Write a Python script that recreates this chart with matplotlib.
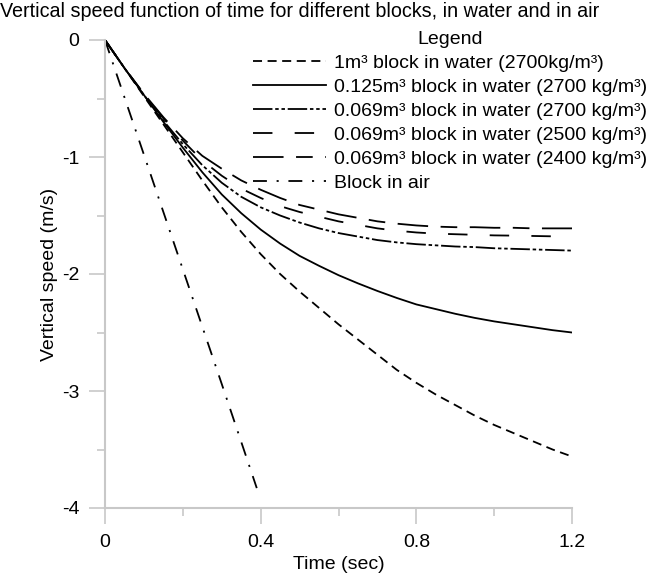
import matplotlib
matplotlib.use('Agg')
import matplotlib.pyplot as plt
from matplotlib.ticker import MultipleLocator

plt.rcParams['font.family'] = ['Liberation Sans', 'DejaVu Sans']
plt.rcParams['lines.scale_dashes'] = False

# Tiempos (s) para los bloques en agua
t_agua = [0, 0.05, 0.1, 0.15, 0.2, 0.25, 0.3, 0.35, 0.4, 0.45, 0.5, 0.55, 0.6,
          0.65, 0.7, 0.75, 0.8, 0.85, 0.9, 0.95, 1.0, 1.05, 1.1, 1.15, 1.2]

# Velocidades verticales (m/s)
v_1m3 = [0, -0.24, -0.48, -0.72, -0.96, -1.20, -1.43, -1.64, -1.83, -2.00, -2.15,
         -2.29, -2.43, -2.56, -2.69, -2.82, -2.93, -3.03, -3.12, -3.21, -3.29,
         -3.36, -3.43, -3.50, -3.56]
v_0125 = [0, -0.24, -0.47, -0.70, -0.92, -1.13, -1.32, -1.48, -1.62, -1.74, -1.845,
          -1.93, -2.01, -2.08, -2.145, -2.205, -2.26, -2.30, -2.34, -2.375, -2.405,
          -2.43, -2.455, -2.48, -2.50]
v_069_2700 = [0, -0.24, -0.47, -0.69, -0.89, -1.07, -1.22, -1.34, -1.43, -1.50,
              -1.56, -1.61, -1.65, -1.68, -1.71, -1.73, -1.745, -1.755, -1.765,
              -1.77, -1.78, -1.785, -1.79, -1.795, -1.80]
v_069_2500 = [0, -0.24, -0.46, -0.67, -0.86, -1.03, -1.16, -1.27, -1.35, -1.42,
              -1.47, -1.51, -1.55, -1.58, -1.61, -1.63, -1.645, -1.655, -1.66,
              -1.665, -1.67, -1.672, -1.675, -1.678, -1.68]
v_069_2400 = [0, -0.24, -0.46, -0.66, -0.84, -0.99, -1.10, -1.20, -1.28, -1.35,
              -1.41, -1.45, -1.49, -1.52, -1.55, -1.57, -1.585, -1.595, -1.60,
              -1.60, -1.605, -1.605, -1.61, -1.61, -1.61]

# Bloque en aire (caida libre)
t_aire = [0, 0.1, 0.2, 0.3, 0.39]
v_aire = [0, -0.98, -1.96, -2.94, -3.83]

etiquetas = ['1m³ block in water (2700kg/m³)',
             '0.125m³ block in water (2700 kg/m³)',
             '0.069m³ block in water (2700 kg/m³)',
             '0.069m³ block in water (2500 kg/m³)',
             '0.069m³ block in water (2400 kg/m³)',
             'Block in air']

x_ticks = [0, 0.4, 0.8, 1.2]
x_ticklabels = ['0', '0.4', '0.8', '1.2']
y_ticks = [0, -1, -2, -3, -4]
y_ticklabels = ['0', '-1', '-2', '-3', '-4']

fig = plt.figure(figsize=(6.57, 5.73), dpi=100)
ax = fig.add_axes([105 / 657, 1 - 508 / 573, 467 / 657, 468 / 573])

lw = 1.3
ax.plot(t_agua, v_1m3, color='black', lw=lw, dashes=(6.5, 4), label=etiquetas[0])
ax.plot(t_agua, v_0125, color='black', lw=lw, label=etiquetas[1])
ax.plot(t_agua, v_069_2700, color='black', lw=lw, dashes=(14, 2, 2.5, 2, 2.5, 2), label=etiquetas[2])
ax.plot(t_agua, v_069_2500, color='black', lw=lw, dashes=(14, 16), label=etiquetas[3])
ax.plot(t_agua, v_069_2400, color='black', lw=lw, dashes=(22, 9, 12, 9), label=etiquetas[4])
ax.plot(t_aire, v_aire, color='black', lw=lw, dashes=(10, 7, 1.5, 7), label=etiquetas[5])

ax.set_xlim(0, 1.2)
ax.set_ylim(-4, 0)
ax.set_xticks(x_ticks)
ax.set_xticklabels(x_ticklabels, fontsize=14)
ax.xaxis.set_minor_locator(MultipleLocator(0.2))
ax.set_yticks(y_ticks)
ax.set_yticklabels(y_ticklabels, fontsize=14)
ax.yaxis.set_minor_locator(MultipleLocator(0.5))

gris = '#c8c8c8'
for lado in ['top', 'right']:
    ax.spines[lado].set_visible(False)
for lado in ['left', 'bottom']:
    ax.spines[lado].set_color(gris)
    ax.spines[lado].set_linewidth(1.5)
ax.tick_params(which='major', direction='out', length=11.5, width=1.2, color=gris, pad=7)
ax.tick_params(which='minor', direction='out', length=5.8, width=1.2, color=gris)

ax.set_xlabel('Time (sec)', fontsize=14, labelpad=4)
ax.set_ylabel('Vertical speed (m/s)', fontsize=14, labelpad=3)

fig.text(0.0, 0.997, 'Vertical speed function of time for different blocks, in water and in air',
         fontsize=14.2, ha='left', va='top')

leg = ax.legend(loc='upper right', bbox_to_anchor=(647 / 657, 1 - 31 / 573),
                bbox_transform=fig.transFigure, frameon=False, title='Legend',
                fontsize=14, title_fontsize=14, handlelength=3.75, handletextpad=0.4,
                labelspacing=0.33, borderpad=0, borderaxespad=0)

fig.savefig('out.png', dpi=100)
